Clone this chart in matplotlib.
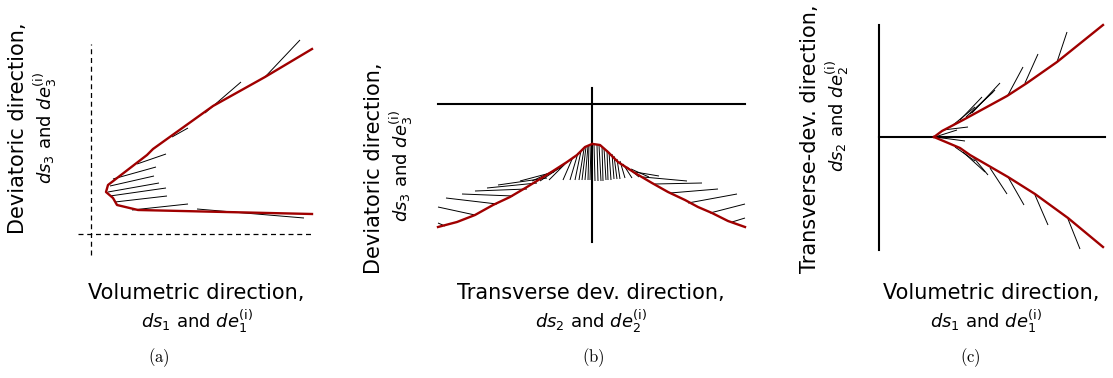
""" Stress paths and plastic strain increments, three views """

import numpy as np
import matplotlib.pyplot as plt

RED = '#a00000'

# (a) volumetric vs deviatoric
a_curve_x = [221, 174, 122, 62, 56, 17, 15, 22, 26, 47, 221]
a_curve_y = [185, 157, 128, 85, 79, 49, 42, 36, 29, 24, 20]
a_seg_x0 = [174, 114, 81, 46, 22, 19, 17, 19, 24, 41, 106]
a_seg_y0 = [157, 121, 97, 70, 55, 48, 42, 38, 32, 24, 25]
a_seg_x1 = [209, 150, 97, 75, 65, 63, 68, 75, 76, 97, 213]
a_seg_y1 = [194, 152, 106, 80, 67, 58, 51, 46, 38, 30, 16]

# (b) transverse dev. vs deviatoric
b_right_x = [1, 8, 16, 26, 43, 60, 76, 93, 106, 120, 136, 153]
b_right_y = [-40, -41, -48, -58, -69, -79, -88, -96, -103, -109, -117, -123]
b_left_x = [0, -7, -15, -25, -39, -52, -65, -82, -99, -117, -135, -154]
b_left_y = [-40, -43, -51, -58, -67, -75, -83, -93, -101, -111, -118, -123]
b_seg_x0 = [2, 5, 7, 10, 12, 15, 17, 20, 22, 25, 28, 31, 35, 39, 43, 51, 63, 78, 96, 118, 140,
            -1, -3, -4, -6, -8, -11, -14, -19, -25, -28, -32, -38, -45, -55, -65, -79, -95, -117, -147]
b_seg_y0 = [-40, -41, -41, -42, -44, -46, -48, -50, -52, -55, -57, -60, -63, -65, -68, -73, -80, -89, -99, -109, -118,
            -41, -41, -42, -43, -45, -47, -49, -53, -58, -61, -64, -68, -74, -79, -85, -92, -100, -111, -122]
b_seg_x1 = [3, 6, 9, 11, 14, 16, 19, 22, 25, 28, 33, 40, 47, 57, 67, 95, 110, 126, 145, 153, 153,
            -2, -4, -7, -10, -13, -17, -22, -29, -43, -52, -60, -72, -94, -105, -117, -130, -146, -154, -154]
b_seg_y1 = [-77, -77, -77, -77, -76, -76, -76, -75, -75, -75, -74, -74, -73, -73, -72, -77, -79, -85, -90, -100, -114,
            -76, -76, -76, -76, -76, -76, -76, -76, -76, -77, -77, -77, -81, -84, -87, -90, -94, -103, -119]

# (c) volumetric vs transverse dev.
c_up_x = [55, 63, 84, 128, 148, 178, 224]
c_up_y = [0, 6, 17, 41, 54, 75, 112]
c_low_x = [55, 81, 91, 129, 156, 189, 224]
c_low_y = [0, -11, -18, -40, -57, -81, -110]
c_seg_x0 = [178, 146, 129, 93, 91, 87, 81, 74, 64, 56, 189, 156, 129, 111, 94, 84, 76, 56]
c_seg_y0 = [75, 54, 42, 24, 23, 20, 17, 12, 7, 0, -82, -58, -40, -31, -20, -15, -10, 0]
c_seg_x1 = [188, 159, 144, 121, 116, 114, 103, 96, 89, 78, 201, 169, 145, 128, 109, 106, 96, 86]
c_seg_y1 = [105, 83, 70, 54, 47, 45, 40, 30, 10, 7, -112, -88, -68, -57, -38, -35, -24, -4]

W, H = 1113, 378
fig = plt.figure(figsize=(W / 100, H / 100), dpi=100)


def box(x0, y0, x1, y1):
    # pixel box -> figure fraction
    return [x0 / W, 1 - y1 / H, (x1 - x0) / W, (y1 - y0) / H]


def segs(ax, x0, y0, x1, y1):
    for i in range(len(x0)):
        ax.plot([x0[i], x1[i]], [y0[i], y1[i]], color='k', lw=0.7, solid_capstyle='butt')


ax1 = fig.add_axes(box(70, 35, 320, 260))
ax1.plot([0, 0], [-21, 190], 'k--', lw=0.9, dashes=(4, 3))
ax1.plot([-13, 221], [0, 0], 'k--', lw=0.9, dashes=(4, 3))
segs(ax1, a_seg_x0, a_seg_y0, a_seg_x1, a_seg_y1)
ax1.plot(a_curve_x, a_curve_y, color=RED, lw=1.7)
ax1.set_xlim(-21, 229)
ax1.set_ylim(-26, 199)

ax2 = fig.add_axes(box(430, 80, 755, 250))
ax2.plot([-154, 153], [0, 0], 'k', lw=1.5)
ax2.plot([0, 0], [16, -138], 'k', lw=1.5)
segs(ax2, b_seg_x0, b_seg_y0, b_seg_x1, b_seg_y1)
ax2.plot(b_right_x, b_right_y, color=RED, lw=1.7)
ax2.plot(b_left_x, b_left_y, color=RED, lw=1.7)
ax2.set_xlim(-162, 163)
ax2.set_ylim(-146, 24)

ax3 = fig.add_axes(box(870, 15, 1110, 255))
ax3.plot([0, 0], [112, -113], 'k', lw=1.5)
ax3.plot([0, 226], [0, 0], 'k', lw=1.5)
segs(ax3, c_seg_x0, c_seg_y0, c_seg_x1, c_seg_y1)
ax3.plot(c_up_x, c_up_y, color=RED, lw=1.7)
ax3.plot(c_low_x, c_low_y, color=RED, lw=1.7)
ax3.set_xlim(-9, 231)
ax3.set_ylim(-118, 122)

for ax in (ax1, ax2, ax3):
    ax.set_axis_off()


def label(x, y, s, rot=0, size=15):
    fig.text(x / W, 1 - y / H, s, ha='center', va='center', rotation=rot, fontsize=size)


# x labels
label(196, 293, 'Volumetric direction,')
label(197, 322, r'$ds_1$ and $de_1^{(\mathrm{i})}$', size=13)
label(591, 293, 'Transverse dev. direction,')
label(591, 322, r'$ds_2$ and $de_2^{(\mathrm{i})}$', size=13)
label(991, 293, 'Volumetric direction,')
label(986, 322, r'$ds_1$ and $de_1^{(\mathrm{i})}$', size=13)

# y labels
label(18, 128, 'Deviatoric direction,', rot=90)
label(46, 128, r'$ds_3$ and $de_3^{(\mathrm{i})}$', rot=90, size=13)
label(374, 168, 'Deviatoric direction,', rot=90)
label(402, 166, r'$ds_3$ and $de_3^{(\mathrm{i})}$', rot=90, size=13)
label(810, 139, 'Transverse-dev. direction,', rot=90)
label(838, 116, r'$ds_2$ and $de_2^{(\mathrm{i})}$', rot=90, size=13)

# captions
for x, s in [(159, '(a)'), (593, '(b)'), (970, '(c)')]:
    fig.text(x / W, 1 - 358 / H, '$\\mathrm{' + s + '}$', ha='center', va='center',
             fontsize=12, math_fontfamily='cm')

plt.savefig('out.png', dpi=100)
